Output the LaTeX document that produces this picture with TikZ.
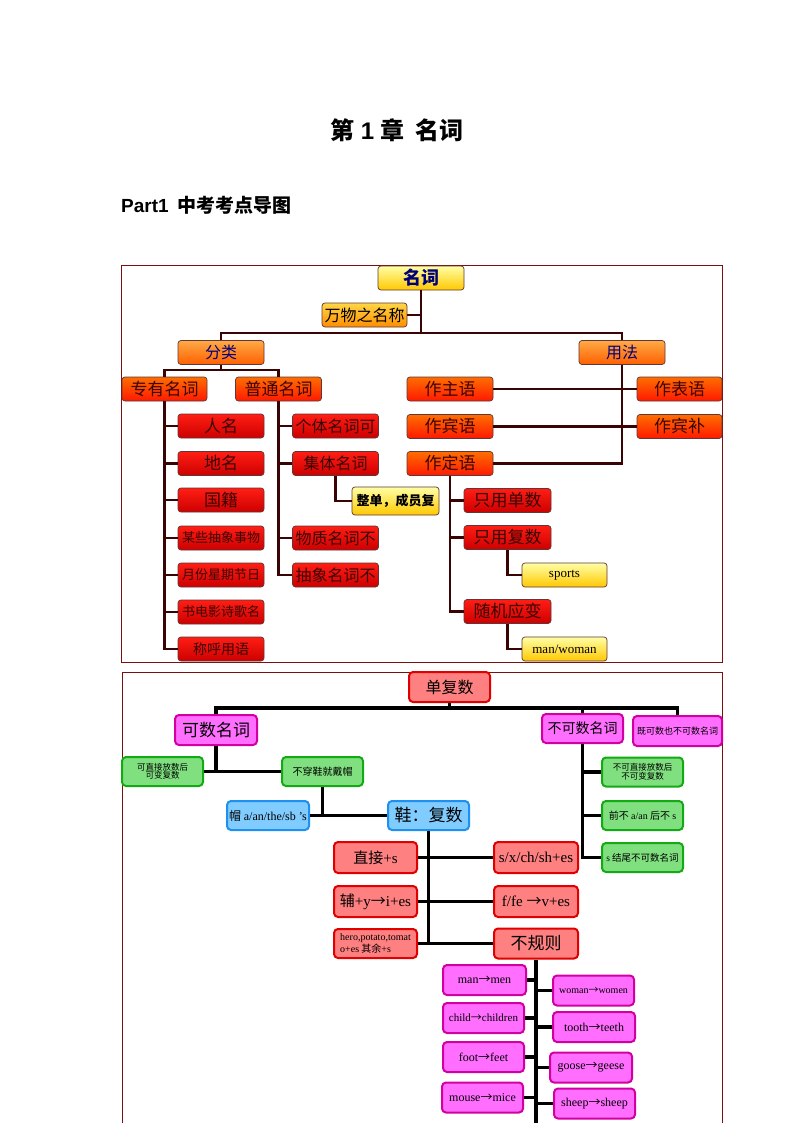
\documentclass[tikz,border=0pt]{standalone}
\usepackage{fontspec}
\setmainfont{Noto Sans CJK SC}
\newfontfamily\tnr{Liberation Serif}
\newfontfamily\arl{Liberation Sans}
\definecolor{frame}{HTML}{7A1010}
\definecolor{wire}{HTML}{3A0404}
\definecolor{navy}{HTML}{00007A}
\newcommand\arw{{\rmfamily →}}
\begin{document}
\begin{tikzpicture}[x=1pt,y=-1pt]

\useasboundingbox[fill=white] (0,0) rectangle (794,1123);

% size of each node
\def\bw{86pt}
\def\bh{24pt}
\def\fs#1{\fontsize{#1}{#1}\selectfont}
% node style definition
\tikzstyle{box} = [
	draw=wire!80, rounded corners=3pt, line width=.7pt, inner sep=0pt,
	minimum width=\bw, minimum height=\bh, align=center, font=\fs{15}];
\tikzstyle{gold} = [top color=yellow!35, bottom color={rgb,255:red,255;green,200;blue,0}];
\tikzstyle{amber} = [top color={rgb,255:red,255;green,215;blue,70}, bottom color={rgb,255:red,255;green,140;blue,0}];
\tikzstyle{tang} = [top color={rgb,255:red,255;green,170;blue,70}, bottom color={rgb,255:red,255;green,95;blue,0}];
\tikzstyle{flame} = [top color={rgb,255:red,255;green,110;blue,0}, bottom color={rgb,255:red,255;green,25;blue,0}, text=wire];
\tikzstyle{crim} = [top color={rgb,255:red,255;green,30;blue,20}, bottom color={rgb,255:red,205;green,0;blue,0}, text=wire];
\tikzstyle{wire} = [draw=wire, line width=2.6pt];
% lower chart
\tikzstyle{cell} = [
	rounded corners=4pt, line width=2pt, inner sep=0pt,
	minimum width=82pt, minimum height=30pt, align=center, font=\fs{15}];
\tikzstyle{rose} = [cell, draw={rgb,255:red,225;green,0;blue,0}, fill={rgb,255:red,255;green,128;blue,128}];
\tikzstyle{mag} = [cell, draw={rgb,255:red,210;green,0;blue,160}, fill={rgb,255:red,255;green,110;blue,255}];
\tikzstyle{leaf} = [cell, draw={rgb,255:red,20;green,170;blue,20}, fill={rgb,255:red,128;green,224;blue,128}];
\tikzstyle{sky} = [cell, draw={rgb,255:red,30;green,144;blue,240}, fill={rgb,255:red,128;green,204;blue,255}];
\tikzstyle{bar} = [draw=black, line width=3.8pt];
\tikzstyle{plain} = [draw=none, fill=none, inner sep=0pt];

% headings
\node[plain, font=\bfseries\fs{24}] (title) at (397,130) {第{\arl\bfseries\ 1 }章\ \ 名词};
\node[plain, font=\bfseries\fs{19}, anchor=west] (part) at (121,205) {{\arl\bfseries Part1}\ \ 中考考点导图};

% upper chart
\draw[frame, line width=.8pt] (121,265) rectangle (722,662);

\node[box,gold,font=\bfseries\fs{18},text=navy] (mc) at (421,278) {名词};
\node[box,amber,minimum width=85pt,font=\fs{16}] (wz) at (364.5,315) {万物之名称};
\node[box,tang,text=navy,font=\fs{16}] (fl) at (221,352.5) {分类};
\node[box,tang,text=navy,font=\fs{16}] (yf) at (622,352.5) {用法};

\node[box,flame,minimum width=85pt,font=\fs{17}] (zy) at (164.5,389) {专有名词};
\node[box,flame,font=\fs{17}] (pt) at (278.5,389) {普通名词};
\node[box,flame,font=\fs{17}] (u1) at (450,389) {作主语};
\node[box,flame,minimum width=85pt,font=\fs{17}] (v1) at (679.5,389) {作表语};
\node[box,flame,font=\fs{17}] (u2) at (450,426.5) {作宾语};
\node[box,flame,minimum width=85pt,font=\fs{17}] (v2) at (679.5,426.5) {作宾补};
\node[box,flame,font=\fs{17}] (u3) at (450,463.5) {作定语};

\node[box,crim,font=\fs{17}] (l1) at (221,426) {人名};
\node[box,crim,font=\fs{17}] (l2) at (221,463.5) {地名};
\node[box,crim,font=\fs{17}] (l3) at (221,500) {国籍};
\node[box,crim,font=\fs{13}] (l4) at (221,538) {某些抽象事物};
\node[box,crim,font=\fs{13}] (l5) at (221,575) {月份星期节日};
\node[box,crim,font=\fs{13}] (l6) at (221,612) {书电影诗歌名};
\node[box,crim,font=\fs{14}] (l7) at (221,649) {称呼用语};

\node[box,crim,font=\fs{16}] (m1) at (335.5,426) {个体名词可};
\node[box,crim,font=\fs{16}] (m2) at (335.5,463.5) {集体名词};
\node[box,crim,font=\fs{16}] (m3) at (335.5,538) {物质名词不};
\node[box,crim,font=\fs{16}] (m4) at (335.5,575) {抽象名词不};
\node[box,gold,minimum width=87pt,minimum height=28pt,font=\bfseries\fs{13}] (zd) at (395.5,501) {整单，成员复};

\node[box,crim,minimum width=87pt,font=\fs{17}] (r1) at (507.5,500.5) {只用单数};
\node[box,crim,minimum width=87pt,font=\fs{17}] (r2) at (507.5,537.5) {只用复数};
\node[box,crim,minimum width=87pt,font=\fs{17}] (r3) at (507.5,611.5) {随机应变};
\node[box,gold,minimum width=85pt,font=\tnr\fs{13}] (sp) at (564.5,575) {sports};
\node[box,gold,minimum width=85pt,font=\tnr\fs{13}] (mw) at (564.5,649) {man/woman};

\coordinate (j1) at (421,333);
\coordinate (j2) at (221,370);
\draw[wire] (mc.south) -- (j1);
\draw[wire] (wz.east) -- (wz.east -| j1);
\draw[wire] (fl.north) |- (j1) -| (yf.north);
\draw[wire] (fl.south) -- (j2);
\draw[wire] (zy.north) |- (j2) -| (pt.north);
\draw[wire] (zy.south) |- (l7.west);
\foreach \n in {l1,l2,l3,l4,l5,l6}
	\draw[wire] (\n.west) -- (\n.west -| zy.south);
\draw[wire] (pt.south) |- (m4.west);
\foreach \n in {m1,m2,m3}
	\draw[wire] (\n.west) -- (\n.west -| pt.south);
\draw[wire] (m2.south) |- (zd.west);
\draw[wire] (u1.east) -- (v1.west);
\draw[wire] (u2.east) -- (v2.west);
\draw[wire] (yf.south) |- (u3.east);
\draw[wire] (u3.south) |- (r3.west);
\foreach \n in {r1,r2}
	\draw[wire] (\n.west) -- (\n.west -| u3.south);
\draw[wire] (r2.south) |- (sp.west);
\draw[wire] (r3.south) |- (mw.west);

% lower chart
\draw[frame, line width=.8pt] (122,1123) -- (122,672) -- (722,672) -- (722,1123);

\node[rose,minimum width=81pt,font=\fs{16}] (dfs) at (449.5,687) {单复数};
\node[mag,font=\fs{17}] (ks) at (216,730) {可数名词};
\node[mag,minimum width=81pt,minimum height=29pt,font=\fs{14}] (bks) at (582.5,728.5) {不可数名词};
\node[mag,minimum width=89pt,font=\fs{9}] (jm) at (677.5,731) {既可数也不可数名词};

\node[leaf,minimum width=81pt,minimum height=29pt,font=\fs{8.5}] (zj) at (162.5,771.5) {可直接放数后\\可变复数};
\node[leaf,minimum width=81pt,minimum height=29pt,font=\fs{10}] (bcx) at (322.5,771.5) {不穿鞋就戴帽};
\node[sky,minimum height=29pt,font=\fs{12}] (hat) at (268,815.5) {帽 {\tnr a/an/the/sb ’s}};
\node[sky,minimum width=81pt,minimum height=29pt,font=\fs{17}] (shoe) at (428.5,815.5) {鞋：复数};

\node[leaf,minimum width=81pt,minimum height=29pt,font=\fs{8.5}] (b1) at (642.5,772) {不可直接放数后\\不可变复数};
\node[leaf,minimum width=81pt,minimum height=29pt,font=\fs{10}] (b2) at (642.5,815.5) {前不 {\tnr a/an} 后不 {\tnr s}};
\node[leaf,minimum width=81pt,minimum height=29pt,font=\fs{9.5}] (b3) at (642.5,857.5) {{\tnr s} 结尾不可数名词};

\node[rose,minimum width=83pt,minimum height=31pt,font=\fs{15}] (p1) at (375.5,857.5) {直接{\tnr +s}};
\node[rose,minimum width=84pt,minimum height=31pt,font=\tnr\fs{15}] (q1) at (536,857.5) {s/x/ch/sh+es};
\node[rose,minimum width=83pt,minimum height=31pt,font=\fs{15}] (p2) at (375.5,901.5) {辅{\tnr +y}\arw{\tnr i+es}};
\node[rose,minimum width=84pt,minimum height=31pt,font=\tnr\fs{15}] (q2) at (536,901.5) {f/fe \arw v+es};
\node[rose,minimum width=83pt,minimum height=29pt,font=\fs{10},align=left] (p3) at (375.5,943.5) {{\tnr hero,potato,tomat}\\{\tnr o+es} 其余{\tnr +s}};
\node[rose,minimum width=84pt,font=\fs{17}] (irr) at (536,943.5) {不规则};

\node[mag,minimum width=83pt,font=\tnr\fs{12}] (i1) at (484.5,980) {man\arw men};
\node[mag,minimum width=81pt,font=\tnr\fs{11}] (i2) at (483.5,1018) {child\arw children};
\node[mag,minimum width=81pt,font=\tnr\fs{12}] (i3) at (483.5,1057) {foot\arw feet};
\node[mag,minimum width=81pt,font=\tnr\fs{12}] (i4) at (482.5,1097.5) {mouse\arw mice};
\node[mag,minimum width=81pt,font=\tnr\fs{10}] (k1) at (593.5,990.5) {woman\arw women};
\node[mag,minimum width=82pt,font=\tnr\fs{12}] (k2) at (594,1027) {tooth\arw teeth};
\node[mag,minimum width=82pt,font=\tnr\fs{12}] (k3) at (591,1067.5) {goose\arw geese};
\node[mag,minimum width=81pt,font=\tnr\fs{12}] (k4) at (594.5,1103.5) {sheep\arw sheep};

\coordinate (j3) at (449.5,708);
\coordinate (iend) at (536,1130);
\draw[bar] (dfs.south) -- (j3);
\draw[bar] (ks.north) |- (j3) -| (jm.north);
\draw[bar] (bks.north) -- (bks.north |- j3);
\draw[bar] (ks.south) -- (ks.south |- zj.east);
\draw[bar] (zj.east) -- (bcx.west);
\draw[bar] (bcx.south) -- (bcx.south |- hat.east);
\draw[bar] (hat.east) -- (shoe.west);
\draw[bar] (shoe.south) -- (shoe.south |- p3.east);
\draw[bar] (p1.east) -- (q1.west);
\draw[bar] (p2.east) -- (q2.west);
\draw[bar] (p3.east) -- (irr.west);
\draw[bar] (bks.south) |- (b3.west);
\foreach \n in {b1,b2}
	\draw[bar] (\n.west) -- (\n.west -| bks.south);
\draw[bar] (irr.south) -- (iend);
\foreach \n in {i1,i2,i3,i4}
	\draw[bar] (\n.east) -- (\n.east -| iend);
\foreach \n in {k1,k2,k3,k4}
	\draw[bar] (\n.west) -- (\n.west -| iend);

\end{tikzpicture}
\end{document}
